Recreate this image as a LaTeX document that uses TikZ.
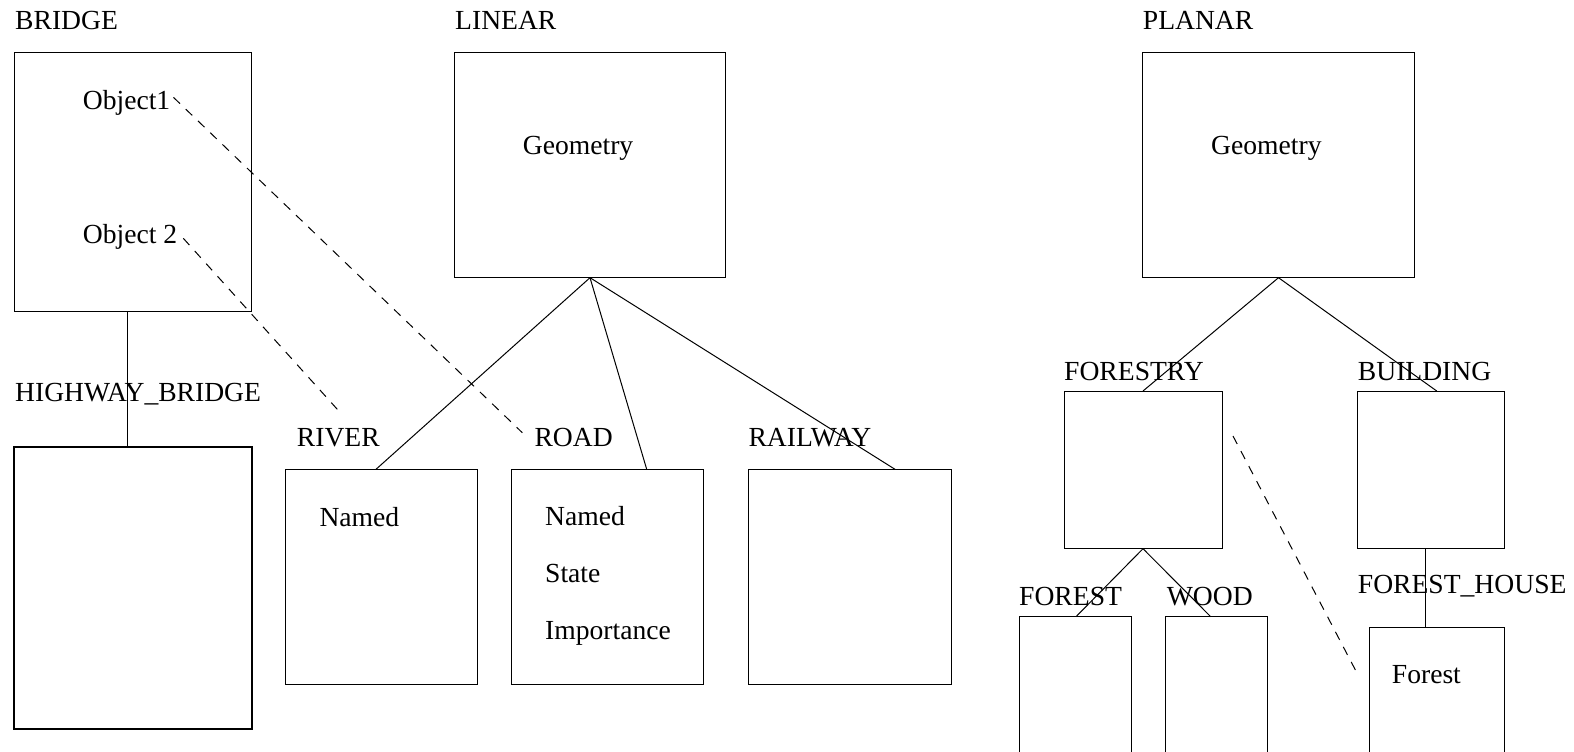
\documentclass[tikz,border=0pt]{standalone}
\usepackage{fontspec}
\setmainfont{Liberation Serif}
\usepackage{tikz}
\usetikzlibrary{shapes,arrows,positioning}

\begin{document}
\begin{tikzpicture}[x=1pt, y=-1pt, font=\fontsize{27.6}{31}\selectfont]
		\tikzstyle{Box} 	= [rectangle, draw, anchor=north west, inner sep=0pt, outer sep=0pt, line width=1pt]
		\tikzstyle{Thick}	= [line width=2pt]
		\tikzstyle{Label}	= [anchor=base west, inner sep=0pt]
		\tikzstyle{Link}	= [line width=1pt]
		\tikzstyle{Ref}		= [line width=1pt, dash pattern=on 9pt off 8pt]

		\useasboundingbox (0,0) rectangle (1574,752);
		\clip (0,0) rectangle (1574,752);

		% bridge side
		\node (bridge) at (14.3, 52.3) [Box, minimum width=237.4pt, minimum height=259.4pt] {};
		\node (highway) at (14.3, 446.7) [Box][Thick, minimum width=237.4pt, minimum height=282.6pt] {};
		\node (lbridge) at (15, 30) [Label] {BRIDGE};
		\node (lhighway) at (15, 401.7) [Label] {HIGHWAY\_BRIDGE};
		\node (obj1) at (82.7, 109) [Label] {Object1};
		\node (obj2) at (82.7, 243) [Label] {Object 2};

		% linear
		\node (linear) at (454.3, 52.3) [Box, minimum width=271.4pt, minimum height=225.4pt] {};
		\node (river) at (285.3, 469.3) [Box, minimum width=192pt, minimum height=214.7pt] {};
		\node (road) at (511, 469.3) [Box, minimum width=192.3pt, minimum height=214.7pt] {};
		\node (railway) at (748.3, 469.3) [Box, minimum width=203.4pt, minimum height=214.7pt] {};
		\node (llinear) at (455, 30) [Label] {LINEAR};
		\node (geolin) at (522.7, 154) [Label] {Geometry};
		\node (lriver) at (296.7, 446.7) [Label] {RIVER};
		\node (lroad) at (534.3, 446.7) [Label] {ROAD};
		\node (lrailway) at (748.3, 446.7) [Label] {RAILWAY};
		\node (rnamed) at (319.3, 526) [Label] {Named};
		\node (dnamed) at (545, 525) [Label] {Named};
		\node (dstate) at (545, 582.7) [Label] {State};
		\node (dimport) at (545, 639) [Label] {Importance};

		% planar
		\node (planar) at (1142.7, 52.3) [Box, minimum width=271.6pt, minimum height=225.4pt] {};
		\node (forestry) at (1064, 391) [Box, minimum width=158pt, minimum height=157.7pt] {};
		\node (building) at (1357.7, 391) [Box, minimum width=146.6pt, minimum height=157.7pt] {};
		\node (forest) at (1019, 616.7) [Box, minimum width=112.7pt, minimum height=160pt] {};
		\node (wood) at (1165.7, 616.7) [Box, minimum width=101.6pt, minimum height=160pt] {};
		\node (fhouse) at (1369, 627.7) [Box, minimum width=135.3pt, minimum height=150pt] {};
		\node (lplanar) at (1142.7, 30) [Label] {PLANAR};
		\node (geopla) at (1211, 154) [Label] {Geometry};
		\node (lforestry) at (1064, 380) [Label] {FORESTRY};
		\node (lbuilding) at (1357.7, 380) [Label] {BUILDING};
		\node (lforest) at (1019, 605) [Label] {FOREST};
		\node (lwood) at (1166.7, 605) [Label] {WOOD};
		\node (lfhouse) at (1357.7, 593.3) [Label] {FOREST\_HOUSE};
		\node (tforest) at (1391.7, 683.3) [Label] {Forest};

		\draw [-] ([xshift=113pt]bridge.south west) to ([xshift=113pt]highway.north west) [Link];
		\draw [-] (linear.south) to ([xshift=90.7pt]river.north west) [Link];
		\draw [-] (linear.south) to ([xshift=135.7pt]road.north west) [Link];
		\draw [-] (linear.south) to ([xshift=146.7pt]railway.north west) [Link];
		\draw [-] (planar.south) to (forestry.north) [Link];
		\draw [-] (planar.south) to ([xshift=79pt]building.north west) [Link];
		\draw [-] (forestry.south) to ([xshift=57pt]forest.north west) [Link];
		\draw [-] (forestry.south) to ([xshift=45pt]wood.north west) [Link];
		\draw [-] ([xshift=67.6pt]building.south west) to ([xshift=56.3pt]fhouse.north west) [Link];

		\draw [-] ([shift={(3pt,5pt)}]obj1.east) to ([shift={(-12pt,5pt)}]lroad.west) [Ref];
		\draw [-] ([shift={(6pt,-2pt)}]obj2.east) to ([shift={(0pt,18pt)}]lriver.north) [Ref];
		\draw [-] ([shift={(11pt,-45pt)}]forestry.north east) to ([xshift=-34pt]tforest.west) [Ref];
	\end{tikzpicture}
\end{document}
